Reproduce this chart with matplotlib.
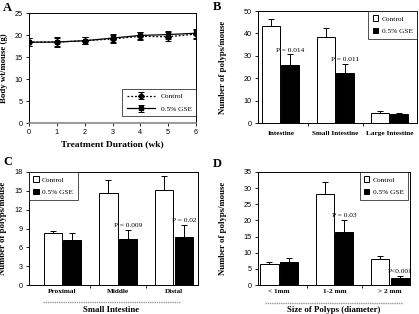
import matplotlib
matplotlib.use("Agg")
import matplotlib.pyplot as plt
from matplotlib.lines import Line2D
import numpy as np

# ---------------- data ----------------
weeks = [0, 1, 2, 3, 4, 5, 6]
wt_control = [18.4, 18.4, 18.7, 19.1, 19.7, 19.6, 20.2]
wt_control_err = [1.0, 1.1, 0.8, 1.0, 0.9, 1.0, 1.0]
wt_gse = [18.35, 18.4, 18.7, 19.3, 19.9, 20.1, 20.4]
wt_gse_err = [0.9, 1.0, 0.8, 0.9, 0.8, 0.9, 1.0]

b_cats = ["Intestine", "Small Intestine", "Large Intestine"]
b_control = [43.3, 38.3, 4.5]
b_control_err = [3.0, 4.0, 0.9]
b_gse = [25.8, 22.3, 3.9]
b_gse_err = [4.9, 4.1, 0.6]
b_pvals = ["P = 0.014", "P = 0.011", None]

c_cats = ["Proximal", "Middle", "Distal"]
c_control = [8.3, 14.7, 15.2]
c_control_err = [0.25, 2.1, 2.1]
c_gse = [7.1, 7.3, 7.7]
c_gse_err = [1.2, 1.5, 1.9]
c_pvals = [None, "P = 0.009", "P = 0.02"]

d_cats = ["< 1mm", "1-2 mm", "> 2 mm"]
d_control = [6.5, 28.2, 8.2]
d_control_err = [0.7, 3.7, 0.8]
d_gse = [7.0, 16.5, 2.3]
d_gse_err = [1.3, 3.7, 0.6]
d_pvals = [None, "P = 0.03", "P<0.001"]

SERIF = "Liberation Serif"
SANS = "Liberation Sans"
YLAB_SIZE = 6.3

W, H = 419, 314
fig = plt.figure(figsize=(W / 100, H / 100), dpi=100)


def rect(l, r, t, b):
    return [l / W, 1 - b / H, (r - l) / W, (b - t) / H]


def style_ticks(ax):
    ax.tick_params(axis="both", which="both", direction="out", length=2.5, width=0.6,
                   labelsize=5.2, pad=2)
    for lab in ax.get_yticklabels():
        lab.set_fontfamily(SANS)
    for s in ax.spines.values():
        s.set_linewidth(0.7)


def place_ylabel(ax, text, x_px):
    ax.set_ylabel(text, fontfamily=SERIF, fontweight="bold", fontsize=YLAB_SIZE)
    bb = ax.get_position()
    ax.yaxis.set_label_coords((x_px / W - bb.x0) / bb.width, 0.5)


# ---------------- Panel A ----------------
axA = fig.add_axes(rect(29, 196, 13, 123))
x = np.array(weeks)
axA.errorbar(x, wt_control, yerr=wt_control_err, color="black", ls=(0, (1.5, 1.5)),
             lw=0.9, marker="D", ms=3.0, capsize=2, elinewidth=0.7, capthick=0.7,
             label="Control")
axA.errorbar(x, wt_gse, yerr=wt_gse_err, color="black", ls="-", lw=0.9, marker="s",
             ms=3.0, capsize=2, elinewidth=0.7, capthick=0.7, label="0.5% GSE")
axA.set_xlim(0, 6)
axA.set_ylim(0, 25)
axA.set_xticks(weeks)
axA.set_yticks([0, 5, 10, 15, 20, 25])
style_ticks(axA)
for lab in axA.get_xticklabels():
    lab.set_fontfamily(SANS)
axA.spines["bottom"].set_color("#888888")
axA.spines["bottom"].set_linewidth(1.2)
axA.set_xlabel("Treatment Duration (wk)", fontfamily=SERIF, fontweight="bold",
               fontsize=6.8, labelpad=3)
place_ylabel(axA, "Body wt/mouse (g)", 8)
legA = axA.legend(loc="lower right", prop={"family": SERIF, "size": 5.3},
                  frameon=True, fancybox=False, edgecolor="black", handlelength=3.8,
                  borderaxespad=0.0, borderpad=0.6, labelspacing=0.9,
                  bbox_to_anchor=(1.0, 0.06))
legA.get_frame().set_linewidth(0.6)
fig.text(3 / W, 1 - 8 / H, "A", fontfamily=SERIF, fontweight="bold", fontsize=9,
         va="center", ha="left")


# ---------------- bar panels ----------------
def bar_panel(ax, cats, ctrl, ctrl_err, gse, gse_err, pvals, ylim, yticks,
              xlim, ylabel, ylabel_x, legloc, leg_anchor, label_pad_px):
    pos = np.arange(len(cats))
    bw = 0.33
    gap = 0.01
    ax.bar(pos - bw / 2 - gap, ctrl, width=bw, color="white", edgecolor="black",
           lw=0.7, label="Control", zorder=2)
    ax.bar(pos + bw / 2 + gap, gse, width=bw, color="black", edgecolor="black",
           lw=0.7, label="0.5% GSE", zorder=2)
    ax.errorbar(pos - bw / 2 - gap, ctrl, yerr=[np.zeros(len(ctrl)), ctrl_err],
                fmt="none", ecolor="black", elinewidth=0.7, capsize=2.2,
                capthick=0.7, zorder=3)
    ax.errorbar(pos + bw / 2 + gap, gse, yerr=[np.zeros(len(gse)), gse_err],
                fmt="none", ecolor="black", elinewidth=0.7, capsize=2.2,
                capthick=0.7, zorder=3)
    yr = ylim[1] - ylim[0]
    for i, p in enumerate(pvals):
        if p:
            ax.text(pos[i] + bw / 2 + gap, gse[i] + gse_err[i] + 0.015 * yr, p,
                    fontfamily=SERIF, fontsize=5.3, ha="center", va="bottom")
    ax.set_xlim(*xlim)
    ax.set_ylim(*ylim)
    ax.set_yticks(yticks)
    ax.set_xticks(pos)
    ax.set_xticklabels(cats, fontfamily=SERIF, fontweight="bold", fontsize=6.1)
    ax.set_xticks(pos[:-1] + 0.5, minor=True)
    style_ticks(ax)
    ax.tick_params(axis="x", which="major", length=0, pad=label_pad_px)
    ax.tick_params(axis="x", which="minor", length=2.5)
    place_ylabel(ax, ylabel, ylabel_x)
    leg = ax.legend(loc=legloc, bbox_to_anchor=leg_anchor,
                    prop={"family": SERIF, "size": 5.3}, frameon=True,
                    fancybox=False, edgecolor="black", handlelength=0.7,
                    handleheight=0.7, handletextpad=0.5, borderaxespad=0.0,
                    borderpad=0.6, labelspacing=0.9)
    leg.get_frame().set_linewidth(0.6)
    return ax


axB = fig.add_axes(rect(258, 417, 11, 123))
bar_panel(axB, b_cats, b_control, b_control_err, b_gse, b_gse_err, b_pvals,
          (0, 50), [0, 10, 20, 30, 40, 50], (-0.42, 2.5),
          "Number of polyps/mouse", 227, "upper right", (1.0, 1.0), 6)
fig.text(213 / W, 1 - 7 / H, "B", fontfamily=SERIF, fontweight="bold", fontsize=9,
         va="center", ha="left")

axC = fig.add_axes(rect(29, 198, 172, 285))
bar_panel(axC, c_cats, c_control, c_control_err, c_gse, c_gse_err, c_pvals,
          (0, 18), [0, 3, 6, 9, 12, 15, 18], (-0.6, 2.43),
          "Number of polyps/mouse", 7, "upper left", (0.0, 1.0), 3)
fig.text(3 / W, 1 - 162 / H, "C", fontfamily=SERIF, fontweight="bold", fontsize=9,
         va="center", ha="left")
fig.add_artist(Line2D([43 / W, 180 / W], [1 - 302 / H, 1 - 302 / H],
                      transform=fig.transFigure, color="#999999", lw=1.0,
                      ls=(0, (1, 0.6))))
fig.text(111 / W, 1 - 310 / H, "Small Intestine", fontfamily=SERIF,
         fontweight="bold", fontsize=6.3, ha="center", va="center")

axD = fig.add_axes(rect(258, 410, 172, 285))
bar_panel(axD, d_cats, d_control, d_control_err, d_gse, d_gse_err, d_pvals,
          (0, 35), [0, 5, 10, 15, 20, 25, 30, 35], (-0.38, 2.36),
          "Number of polyps/mouse", 227, "upper right", (0.99, 1.0), 3)
fig.text(213 / W, 1 - 164 / H, "D", fontfamily=SERIF, fontweight="bold", fontsize=9,
         va="center", ha="left")
fig.add_artist(Line2D([265 / W, 403 / W], [1 - 303 / H, 1 - 303 / H],
                      transform=fig.transFigure, color="#999999", lw=1.0,
                      ls=(0, (1, 0.6))))
fig.text(334 / W, 1 - 310 / H, "Size of Polyps (diameter)", fontfamily=SERIF,
         fontweight="bold", fontsize=6.3, ha="center", va="center")

fig.savefig("out.png", dpi=100)
